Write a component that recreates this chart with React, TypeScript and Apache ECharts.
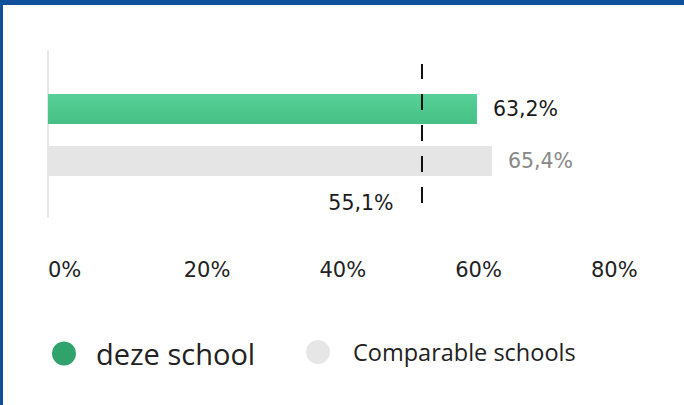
import React, { useEffect, useRef } from "react";
import * as echarts from "echarts";

const categories = ["deze school", "Comparable schools"];
const schoolValues: (number | null)[] = [63.2, null];
const comparableValues: (number | null)[] = [null, 65.4];
const benchmarkValue = 55.1;
const axisMin = 0;
const axisMax = 80;
const axisInterval = 20;

const fmt = (v: number) => v.toFixed(1).replace(".", ",") + "%";

export default function App() {
  const ref = useRef<HTMLDivElement>(null);
  useEffect(() => {
    if (!ref.current) return;
    const chart = echarts.init(ref.current, null, { renderer: "svg" });
    const gridBase = { left: 48, width: 543 };
    chart.setOption({
      animation: false,
      backgroundColor: "#ffffff",
      graphic: [
        { type: "rect", shape: { x: 0, y: 0, width: 684, height: 5 }, style: { fill: "#11519B" }, z: 100 },
        { type: "rect", shape: { x: 0, y: 0, width: 3, height: 405 }, style: { fill: "#11519B" }, z: 100 },
      ],
      grid: [
        { ...gridBase, top: 83, height: 104 },
        { ...gridBase, top: 51, height: 166 },
        { ...gridBase, top: 64, height: 139 },
      ],
      xAxis: [
        {
          gridIndex: 0,
          type: "value",
          min: axisMin,
          max: axisMax,
          interval: axisInterval,
          axisLine: { show: false },
          axisTick: { show: false },
          splitLine: { show: false },
          axisLabel: {
            formatter: "{value}%",
            align: "left",
            margin: 72,
            fontFamily: "DejaVu Sans",
            fontSize: 21,
            color: "#222222",
          },
        },
        { gridIndex: 1, type: "value", min: axisMin, max: axisMax, show: false },
        { gridIndex: 2, type: "value", min: axisMin, max: axisMax, show: false },
      ],
      yAxis: [
        { gridIndex: 0, type: "category", data: categories, inverse: true, show: false },
        {
          gridIndex: 1,
          type: "value",
          min: 0,
          max: 1,
          axisLine: { show: true, lineStyle: { color: "#e6e6e6", width: 2 } },
          axisTick: { show: false },
          axisLabel: { show: false },
          splitLine: { show: false },
        },
        { gridIndex: 2, type: "value", min: 0, max: 1, show: false },
      ],
      legend: [
        {
          data: [{ name: "deze school", itemStyle: { color: "#2FA36B" } }],
          left: 52,
          top: 339,
          padding: 0,
          icon: "circle",
          itemWidth: 24,
          itemHeight: 24,
          selectedMode: false,
          textStyle: { fontFamily: "Open Sans", fontSize: 29, color: "#222222", padding: [0, 0, 0, 15] },
        },
        {
          data: [{ name: "Comparable schools", itemStyle: { color: "#E6E6E6" } }],
          left: 306,
          top: 340,
          padding: 0,
          icon: "circle",
          itemWidth: 24,
          itemHeight: 24,
          selectedMode: false,
          textStyle: { fontFamily: "Open Sans", fontSize: 23.5, color: "#222222", padding: [0, 0, 0, 18] },
        },
      ],
      series: [
        {
          name: "deze school",
          type: "bar",
          xAxisIndex: 0,
          yAxisIndex: 0,
          stack: "total",
          barWidth: 30,
          data: schoolValues,
          itemStyle: {
            color: new echarts.graphic.LinearGradient(0, 0, 0, 1, [
              { offset: 0, color: "#58D198" },
              { offset: 1, color: "#45BF84" },
            ]),
          },
          label: {
            show: true,
            position: "right",
            distance: 16,
            formatter: (p: any) => fmt(p.value),
            fontFamily: "DejaVu Sans",
            fontSize: 20.5,
            color: "#1a1a1a",
          },
        },
        {
          name: "Comparable schools",
          type: "bar",
          xAxisIndex: 0,
          yAxisIndex: 0,
          stack: "total",
          barWidth: 30,
          data: comparableValues,
          itemStyle: { color: "#E5E5E5" },
          label: {
            show: true,
            position: "right",
            distance: 16,
            formatter: (p: any) => fmt(p.value),
            fontFamily: "DejaVu Sans",
            fontSize: 20.5,
            color: "#888888",
          },
        },
        {
          name: "benchmark",
          type: "line",
          xAxisIndex: 2,
          yAxisIndex: 2,
          data: [
            [benchmarkValue, 0],
            [benchmarkValue, 1],
          ],
          symbol: "none",
          lineStyle: { color: "#111111", width: 2, type: [16, 15] },
          z: 5,
        },
        {
          name: "benchmarkLabel",
          type: "scatter",
          xAxisIndex: 2,
          yAxisIndex: 2,
          data: [[benchmarkValue, 0]],
          symbolSize: 1,
          itemStyle: { color: "transparent", opacity: 1 },
          label: {
            show: true,
            position: "left",
            distance: 28,
            formatter: () => fmt(benchmarkValue),
            fontFamily: "DejaVu Sans",
            fontSize: 20.5,
            color: "#1a1a1a",
          },
        },
      ],
    });
    return () => chart.dispose();
  }, []);
  return (
    <div
      ref={ref}
      style={{ position: "fixed", left: 0, top: 0, width: 684, height: 405 }}
    />
  );
}
